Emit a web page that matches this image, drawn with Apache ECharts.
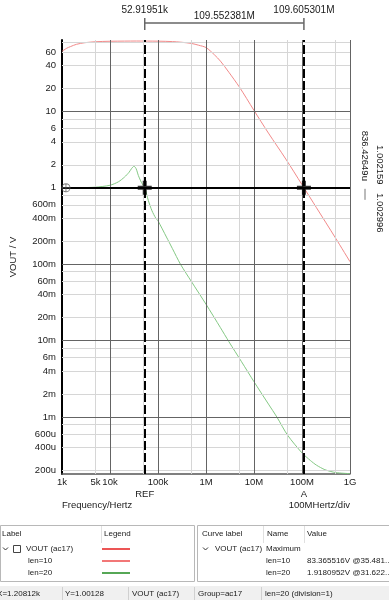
<!DOCTYPE html>
<html><head><meta charset="utf-8">
<script src="https://cdn.jsdelivr.net/npm/echarts@6/dist/echarts.min.js"></script>
<style>html,body{margin:0;padding:0;background:#fff}#c{width:389px;height:600px}</style>
</head><body><div id="c"></div>
<script>
// ---- data ----
const redFreq = [1e3, 1.25e3, 1.5e3, 2e3, 3e3, 5e3, 1e4, 2e4, 3.548e4, 1e5, 2e5, 3e5, 5e5, 7e5, 1e6, 1.5e6, 2e6, 3e6, 5e6, 7e6, 1e7, 2e7, 4.6e7, 1e8, 2e8, 5e8, 1e9];
const redVals = [61, 67, 70.5, 75.5, 79.3, 81.6, 82.8, 83.2, 83.37, 83.0, 82.0, 80.5, 77.5, 73.5, 68.5, 55, 45.5, 32.5, 20.7, 14.8, 10.3, 5.2, 2.38, 1.1, 0.55, 0.22, 0.108];
const greenFreq = [1e3, 2e3, 5e3, 1e4, 1.5e4, 2e4, 2.5e4, 2.8e4, 3.162e4, 3.5e4, 3.9e4, 4.5e4, 5.292e4, 6.3e4, 7.5e4, 9e4, 1e5, 1.5e5, 2e5, 2.94e5, 5e5, 1e6, 2e6, 3e6, 5.5e6, 1e7, 2e7, 3e7, 5e7, 1e8, 1.5e8, 2e8, 3e8, 5e8, 1e9];
const greenVals = [1.0, 1.003, 1.02, 1.08, 1.2, 1.38, 1.6, 1.78, 1.918, 1.78, 1.45, 1.18, 1.003, 0.68, 0.5, 0.4, 0.37, 0.227, 0.16, 0.1, 0.059, 0.03, 0.0148, 0.0097, 0.0053, 0.0029, 0.00148, 0.001, 0.00058, 0.00034, 0.00027, 0.000235, 0.000205, 0.000188, 0.000182];

const xDecades = [1e3, 1e4, 1e5, 1e6, 1e7, 1e8, 1e9];
const xDecadeLabels = ['1k', '10k', '100k', '1M', '10M', '100M', '1G'];
const xMinorTicks = [5e3, 5e4, 5e5, 5e6, 5e7, 5e8];
const xMinorLabels = ['5k', '', '', '', '', ''];
const yDecades = [1e-3, 1e-2, 1e-1, 1, 10];
const yDecadeLabels = ['1m', '10m', '100m', '1', '10'];
const yMinorTicks = [2e-4, 4e-4, 6e-4, 8e-4, 2e-3, 4e-3, 6e-3, 8e-3, 2e-2, 4e-2, 6e-2, 8e-2, 0.2, 0.4, 0.6, 0.8, 2, 4, 6, 8, 20, 40, 60, 80];
const yMinorLabels = ['200u', '400u', '600u', '', '2m', '4m', '6m', '', '20m', '40m', '60m', '', '200m', '400m', '600m', '', '2', '4', '6', '', '20', '40', '60', ''];

const xMin = 1e3, xMax = 1e9, yMin = 1.8e-4, yMax = 86;
const cursorRef = 52919.51, cursorA = 109605301, cursorY = 1;
const marker = [1208.12, 1.00128];

const FONT = 'Liberation Sans';
const TXT = '#1a1a1a';

const chart = echarts.init(document.getElementById('c'));

function zip(a, b) { return a.map((v, i) => [v, b[i]]); }
function near(v, arr) { return arr.findIndex(t => Math.abs(Math.log10(v) - Math.log10(t)) < 1e-6); }

const lightLines = xMinorTicks.map(v => ({ xAxis: v }))
  .concat(yMinorTicks.map((v, i) => ({ yAxis: v, label: { show: !!yMinorLabels[i], formatter: yMinorLabels[i] } })));
const darkLines = xDecades.slice(1).map(v => ({ xAxis: v }))
  .concat(yDecades.map(v => ({ yAxis: v })));

const option = {
  animation: false,
  backgroundColor: '#fff',
  grid: { left: 57, right: 39, top: 40, bottom: 126, containLabel: false },
  xAxis: {
    type: 'log', logBase: 10, min: xMin, max: xMax,
    axisLine: { show: true, lineStyle: { color: '#555', width: 1.5 } },
    axisTick: { show: false }, splitLine: { show: false },
    axisLabel: { margin: 3, fontFamily: FONT, fontSize: 9.5, color: TXT,
      formatter: v => { const i = near(v, xDecades); return i >= 0 ? xDecadeLabels[i] : ''; } }
  },
  yAxis: {
    type: 'log', logBase: 10, min: yMin, max: yMax,
    name: 'VOUT / V', nameLocation: 'middle', nameGap: 44,
    nameTextStyle: { fontFamily: FONT, fontSize: 9.5, color: TXT },
    axisLine: { show: true, lineStyle: { color: '#000', width: 2 } },
    axisTick: { show: false }, splitLine: { show: false },
    showMinLabel: false, showMaxLabel: false,
    axisLabel: { margin: 6, fontFamily: FONT, fontSize: 9.5, color: TXT,
      formatter: v => { const i = near(v, yDecades); return i >= 0 ? yDecadeLabels[i] : ''; } }
  },
  series: [
    { type: 'line', name: 'gridLight', data: [[xMin, 1]], showSymbol: false, lineStyle: { opacity: 0 }, silent: true, z: 1,
      markLine: { silent: true, symbol: ['none', 'none'], animation: false, precision: 12,
        lineStyle: { color: '#d6d6d6', width: 1, type: 'solid' },
        label: { show: false, position: 'start', distance: 6, fontFamily: FONT, fontSize: 9.5, color: TXT },
        data: lightLines } },
    { type: 'line', name: 'gridDark', data: [[xMin, 1]], showSymbol: false, lineStyle: { opacity: 0 }, silent: true, z: 2,
      markLine: { silent: true, symbol: ['none', 'none'], animation: false, precision: 12,
        lineStyle: { color: '#646464', width: 1, type: 'solid' }, label: { show: false },
        data: darkLines } },
    { type: 'line', name: 'len=10', data: zip(redFreq, redVals), showSymbol: false, smooth: 0.3,
      lineStyle: { color: '#f28a8a', width: 1 }, itemStyle: { color: '#f28a8a' }, z: 3 },
    { type: 'line', name: 'len=20', data: zip(greenFreq, greenVals), showSymbol: false, smooth: 0.25,
      lineStyle: { color: '#84c884', width: 1 }, itemStyle: { color: '#84c884' }, z: 3 },
    { type: 'line', name: 'cursors', data: [[xMin, 1]], showSymbol: false, lineStyle: { opacity: 0 }, silent: true, z: 4,
      markLine: { silent: true, symbol: ['none', 'none'], animation: false, precision: 12, label: { show: false },
        data: [
          { xAxis: cursorRef, lineStyle: { color: '#000', width: 2, type: [9, 3] } },
          { xAxis: cursorA, lineStyle: { color: '#000', width: 2, type: [9, 3] } },
          { yAxis: cursorY, lineStyle: { color: '#000', width: 2, type: 'solid' } }
        ] } },
    { type: 'scatter', name: 'crosses', data: [[cursorRef, cursorY], [cursorA, cursorY]], z: 5, silent: true,
      symbol: 'path://M5,0H9V5H14V9H9V14H5V9H0V5H5Z', symbolSize: 14, itemStyle: { color: '#000' } },
    { type: 'scatter', name: 'marker', data: [marker], z: 5, silent: true,
      symbol: 'path://M7,0A7,7 0 1 1 6.99,0ZM7,1.4A5.6,5.6 0 1 0 7.01,1.4ZM6.3,0H7.7V14H6.3ZM0,6.3H14V7.7H0Z', symbolSize: 9, itemStyle: { color: '#555' } }
  ]
};
chart.setOption(option);

const P = (x, y) => chart.convertToPixel({ xAxisIndex: 0, yAxisIndex: 0 }, [x, y]);
const [xr, y1] = P(cursorRef, cursorY);
const [xa] = P(cursorA, cursorY);
const [xL, yB] = P(xMin, yMin);
const [xR, yT] = P(xMax, yMax);

function T(text, x, y, o) {
  o = o || {};
  return { type: 'text', x: x, y: y, rotation: o.rot || 0, silent: true, z: 10,
    style: { text: text, fill: o.fill || TXT, font: (o.size || 9.5) + 'px ' + FONT,
      align: o.align || 'center', verticalAlign: 'middle' } };
}
function L(x1, y1_, x2, y2, color, w) {
  return { type: 'line', silent: true, z: 10, shape: { x1: x1, y1: y1_, x2: x2, y2: y2 },
    style: { stroke: color, lineWidth: w || 1 } };
}

const g = [];
// top cursor annotations
g.push(T('52.91951k', xr, 10, { size: 10 }));
g.push(T('109.605301M', xa, 10, { size: 10 }));
g.push(T('109.552381M', (xr + xa) / 2, 16, { size: 10 }));
g.push(L(xr, 18, xr, 30, '#666', 1.5));
g.push(L(xa, 18, xa, 30, '#666', 1.5));
g.push(L(xr, 23, xa, 23, '#666', 1.5));
// right rotated readouts
g.push(T('836.42649u', 365, y1 - 32, { rot: -Math.PI / 2 }));
g.push(L(365, y1 + 1, 365, y1 + 12, '#777', 1));
g.push(T('1.002159', 380, y1 - 23, { rot: -Math.PI / 2 }));
g.push(T('1.002996', 380, y1 + 25, { rot: -Math.PI / 2 }));
// x minor labels
xMinorTicks.forEach((v, i) => { if (xMinorLabels[i]) g.push(T(xMinorLabels[i], P(v, yMin)[0], yB + 8)); });
// cursor names and axis captions
g.push(T('REF', xr, yB + 20));
g.push(T('A', xa, yB + 20));
g.push(T('Frequency/Hertz', xL, yB + 31, { align: 'left' }));
g.push(T('100MHertz/div', xR, yB + 31, { align: 'right' }));

// bottom panel
const PF = 8;
g.push({ type: 'rect', silent: true, z: 9, shape: { x: 0, y: 586, width: 389, height: 14 }, style: { fill: '#f0f0f0' } });
g.push({ type: 'rect', silent: true, z: 9, shape: { x: 0.5, y: 525.5, width: 194, height: 56 }, style: { fill: '#fff', stroke: '#b8b8b8', lineWidth: 1 } });
g.push({ type: 'rect', silent: true, z: 9, shape: { x: 197.5, y: 525.5, width: 200, height: 56 }, style: { fill: '#fff', stroke: '#b8b8b8', lineWidth: 1 } });
g.push(L(101.5, 526, 101.5, 543, '#e0e0e0'));
g.push(L(263.5, 526, 263.5, 543, '#e0e0e0'));
g.push(L(304.5, 526, 304.5, 543, '#e0e0e0'));
g.push(T('Label', 2, 534, { align: 'left', size: PF }));
g.push(T('Legend', 104, 534, { align: 'left', size: PF }));
g.push({ type: 'polyline', silent: true, z: 10, shape: { points: [[3, 547.5], [5.5, 550], [8, 547.5]] }, style: { stroke: '#333', fill: null, lineWidth: 1 } });
g.push({ type: 'rect', silent: true, z: 10, shape: { x: 13.5, y: 545.5, width: 7, height: 7 }, style: { fill: '#fff', stroke: '#444', lineWidth: 1 } });
g.push(T('VOUT (ac17)', 26, 549, { align: 'left', size: PF }));
g.push(T('len=10', 28, 561, { align: 'left', size: PF }));
g.push(T('len=20', 28, 573, { align: 'left', size: PF }));
g.push(L(102, 549, 130, 549, '#e61c1c', 1.5));
g.push(L(102, 561, 130, 561, '#ee4a4a', 1.5));
g.push(L(102, 573, 130, 573, '#1e8a1e', 1.5));
g.push(T('Curve label', 202, 534, { align: 'left', size: PF }));
g.push(T('Name', 267, 534, { align: 'left', size: PF }));
g.push(T('Value', 307, 534, { align: 'left', size: PF }));
g.push({ type: 'polyline', silent: true, z: 10, shape: { points: [[203, 547.5], [205.5, 550], [208, 547.5]] }, style: { stroke: '#333', fill: null, lineWidth: 1 } });
g.push(T('VOUT (ac17)', 215, 549, { align: 'left', size: PF }));
g.push(T('Maximum', 266, 549, { align: 'left', size: PF }));
g.push(T('len=10', 266, 561, { align: 'left', size: PF }));
g.push(T('83.365516V @35.481..', 307, 561, { align: 'left', size: PF }));
g.push(T('len=20', 266, 573, { align: 'left', size: PF }));
g.push(T('1.9180952V @31.622..', 307, 573, { align: 'left', size: PF }));
// status bar
[62.5, 128.5, 194.5, 261.5].forEach(x => g.push(L(x, 587, x, 600, '#d0d0d0')));
g.push(T('X=1.20812k', 40, 594, { align: 'right', size: PF }));
g.push(T('Y=1.00128', 65, 594, { align: 'left', size: PF }));
g.push(T('VOUT (ac17)', 132, 594, { align: 'left', size: PF }));
g.push(T('Group=ac17', 198, 594, { align: 'left', size: PF }));
g.push(T('len=20 (division=1)', 265, 594, { align: 'left', size: PF }));

chart.setOption({ graphic: { elements: g } });
</script></body></html>
